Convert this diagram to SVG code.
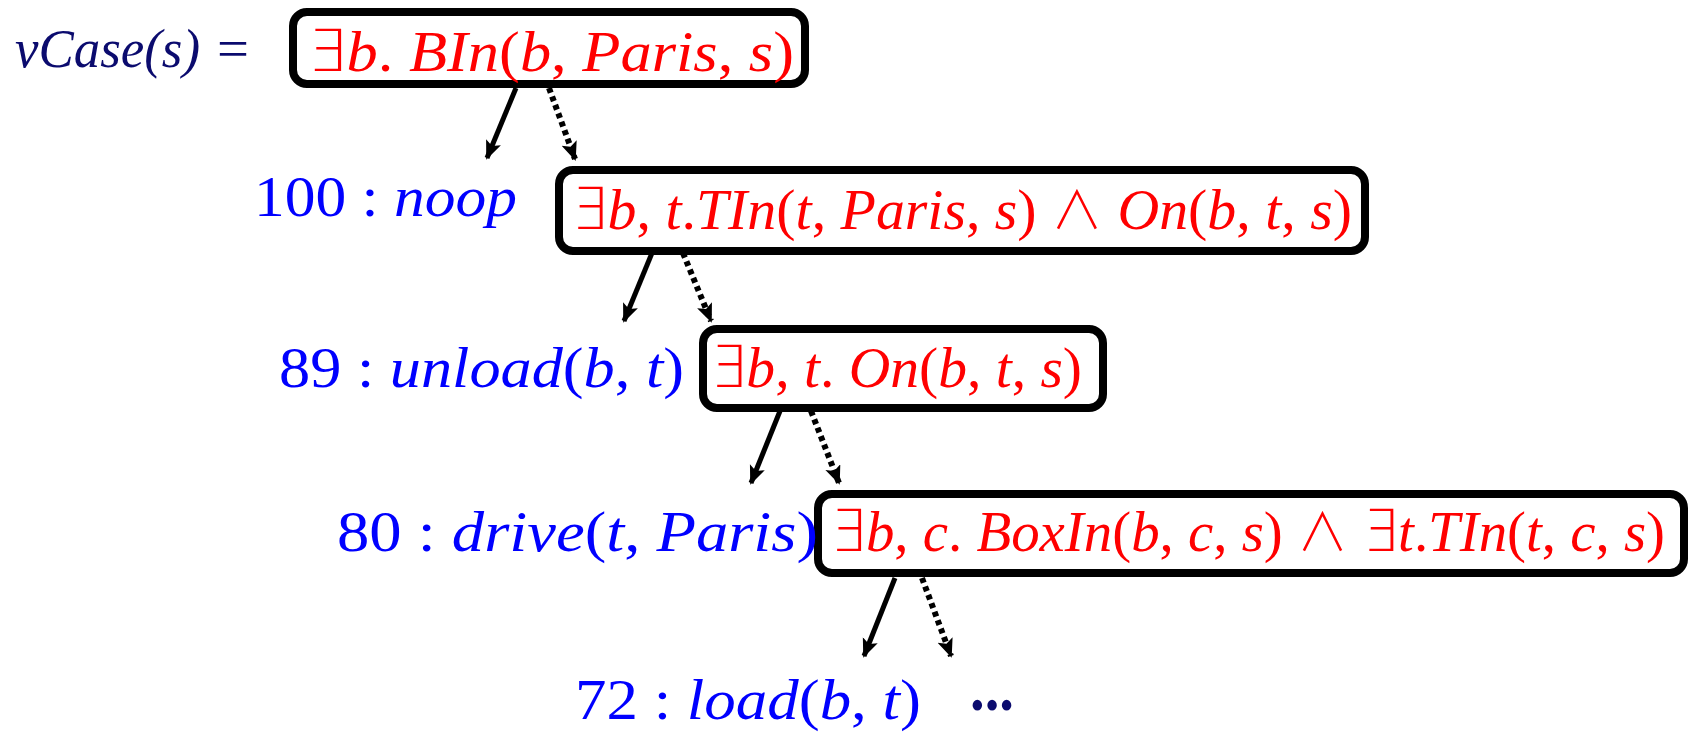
<svg xmlns="http://www.w3.org/2000/svg" width="1695" height="733" viewBox="0 0 1695 733">
  <style>
    .box { fill: #ffffff; stroke: #000000; stroke-width: 8; }
    .f { font-family: "Liberation Serif", "DejaVu Serif", serif; font-size: 58px; }
    .cond { fill: #ff0000; }
    .act { fill: #0000ff; }
    .title { fill: #0b0b6e; font-family: "Liberation Serif", serif; font-size: 54px; }
    .i { font-style: italic; }
    .sym { font-family: "DejaVu Sans", sans-serif; font-weight: 200; font-style: normal; }
    .wedge { font-family: "Noto Sans CJK SC", "Noto Sans CJK JP", sans-serif; font-weight: 200; font-style: normal; font-size: 52px; }
    .edge { stroke: #000000; stroke-width: 5; fill: none; marker-end: url(#head); }
    .dotted { stroke-width: 6; stroke-dasharray: 5 4; }
  </style>
  <defs>
    <marker id="head" markerWidth="20" markerHeight="18" refX="17" refY="8" orient="auto" markerUnits="userSpaceOnUse">
      <path d="M0,0 L19,8 L0,16 L4,8 Z" fill="#000000"/>
    </marker>
  </defs>

  <g id="title">
    <text class="title i" x="15" y="67" textLength="185" lengthAdjust="spacingAndGlyphs">vCase(s)</text>
    <text class="title" x="217" y="67" textLength="32" lengthAdjust="spacingAndGlyphs">=</text>
  </g>

  <g id="connectors">
    <line class="edge" x1="516" y1="88" x2="487" y2="158"/>
    <line class="edge dotted" x1="549" y1="88" x2="575" y2="159"/>
    <line class="edge" x1="652" y1="253" x2="624" y2="321"/>
    <line class="edge dotted" x1="683" y1="253" x2="711" y2="321"/>
    <line class="edge" x1="780" y1="411" x2="751" y2="483"/>
    <line class="edge dotted" x1="811" y1="411" x2="839" y2="483"/>
    <line class="edge" x1="895" y1="578" x2="864" y2="656"/>
    <line class="edge dotted" x1="922" y1="578" x2="951" y2="656"/>
  </g>

  <g id="node-bin">
    <rect class="box" x="293" y="12" width="512" height="72" rx="14"/>
    <text class="f cond" x="307" y="71" textLength="487" lengthAdjust="spacingAndGlyphs"><tspan class="sym">∃</tspan><tspan class="i">b</tspan>. <tspan class="i">BIn</tspan>(<tspan class="i">b</tspan>, <tspan class="i">Paris</tspan>, <tspan class="i">s</tspan>)</text>
  </g>

  <g id="node-tin">
    <rect class="box" x="559" y="170" width="806" height="81" rx="14"/>
    <text class="f cond" x="571" y="229" textLength="781" lengthAdjust="spacingAndGlyphs"><tspan class="sym">∃</tspan><tspan class="i">b</tspan>, <tspan class="i">t</tspan>.<tspan class="i">TIn</tspan>(<tspan class="i">t</tspan>, <tspan class="i">Paris</tspan>, <tspan class="i">s</tspan>) <tspan class="wedge">∧</tspan> <tspan class="i">On</tspan>(<tspan class="i">b</tspan>, <tspan class="i">t</tspan>, <tspan class="i">s</tspan>)</text>
  </g>

  <g id="node-on">
    <rect class="box" x="703" y="329" width="400" height="79" rx="14"/>
    <text class="f cond" x="710" y="387" textLength="372" lengthAdjust="spacingAndGlyphs"><tspan class="sym">∃</tspan><tspan class="i">b</tspan>, <tspan class="i">t</tspan>. <tspan class="i">On</tspan>(<tspan class="i">b</tspan>, <tspan class="i">t</tspan>, <tspan class="i">s</tspan>)</text>
  </g>

  <g id="node-boxin">
    <rect class="box" x="818" y="494" width="866" height="79" rx="14"/>
    <text class="f cond" x="830" y="551" textLength="835" lengthAdjust="spacingAndGlyphs"><tspan class="sym">∃</tspan><tspan class="i">b</tspan>, <tspan class="i">c</tspan>. <tspan class="i">BoxIn</tspan>(<tspan class="i">b</tspan>, <tspan class="i">c</tspan>, <tspan class="i">s</tspan>) <tspan class="wedge">∧</tspan> <tspan class="sym">∃</tspan><tspan class="i">t</tspan>.<tspan class="i">TIn</tspan>(<tspan class="i">t</tspan>, <tspan class="i">c</tspan>, <tspan class="i">s</tspan>)</text>
  </g>

  <g id="label-noop">
    <text class="f act" x="254" y="216" textLength="263" lengthAdjust="spacingAndGlyphs">100 : <tspan class="i">noop</tspan></text>
  </g>

  <g id="label-unload">
    <text class="f act" x="279" y="387" textLength="405" lengthAdjust="spacingAndGlyphs">89 : <tspan class="i">unload</tspan>(<tspan class="i">b</tspan>, <tspan class="i">t</tspan>)</text>
  </g>

  <g id="label-drive">
    <text class="f act" x="337" y="551" textLength="481" lengthAdjust="spacingAndGlyphs">80 : <tspan class="i">drive</tspan>(<tspan class="i">t</tspan>, <tspan class="i">Paris</tspan>)</text>
  </g>

  <g id="label-load">
    <text class="f act" x="575" y="719" textLength="346" lengthAdjust="spacingAndGlyphs">72 : <tspan class="i">load</tspan>(<tspan class="i">b</tspan>, <tspan class="i">t</tspan>)</text>
  </g>

  <g id="ellipsis">
    <text x="970" y="710" fill="#0b0b6e" font-family="Liberation Serif, serif" font-size="66" font-weight="bold" textLength="44" lengthAdjust="spacingAndGlyphs">...</text>
  </g>
</svg>
